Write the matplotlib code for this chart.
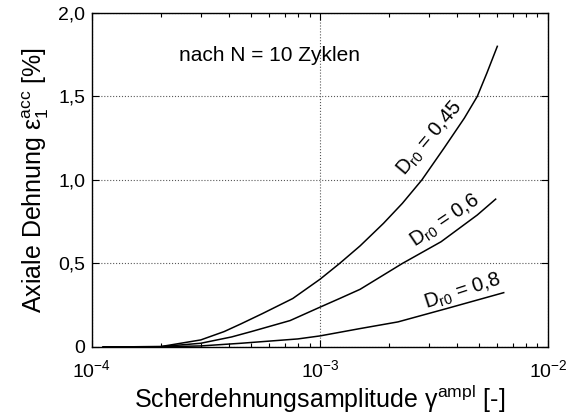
import numpy as np
import matplotlib
import matplotlib.pyplot as plt
from matplotlib.ticker import FixedLocator, LogLocator, NullFormatter

matplotlib.rcParams["font.family"] = "Liberation Sans"
matplotlib.rcParams["mathtext.fontset"] = "custom"
matplotlib.rcParams["mathtext.rm"] = "Liberation Sans"
matplotlib.rcParams["mathtext.it"] = "Liberation Sans:italic"
matplotlib.rcParams["font.size"] = 14

# values
x_045 = [1.12e-4, 2.0e-4, 3.0e-4, 3.8e-4, 4.5e-4, 5.6e-4, 7.6e-4, 1.0e-3,
         1.22e-3, 1.5e-3, 1.9e-3, 2.3e-3, 2.8e-3, 3.5e-3, 4.3e-3, 4.9e-3,
         5.4e-3, 6.0e-3]
y_045 = [0.0, 0.002, 0.042, 0.092, 0.138, 0.20, 0.29, 0.405,
         0.50, 0.605, 0.74, 0.86, 1.00, 1.19, 1.37, 1.50,
         1.64, 1.80]

x_06 = [1.12e-4, 2.0e-4, 3.0e-4, 4.1e-4, 5.0e-4, 7.4e-4, 1.0e-3, 1.22e-3,
        1.5e-3, 2.3e-3, 3.4e-3, 4.9e-3, 5.9e-3]
y_06 = [0.0, 0.002, 0.022, 0.06, 0.092, 0.158, 0.238, 0.29,
        0.345, 0.50, 0.63, 0.79, 0.885]

x_08 = [1.12e-4, 2.0e-4, 3.0e-4, 4.5e-4, 8.0e-4, 1.0e-3, 1.5e-3, 2.2e-3,
        3.6e-3, 6.4e-3]
y_08 = [0.0, 0.001, 0.006, 0.022, 0.048, 0.066, 0.11, 0.15,
        0.23, 0.325]

yticks = [0, 0.5, 1.0, 1.5, 2.0]
ytick_labels = ["0", "0,5", "1,0", "1,5", "2,0"]
xticks = [1e-4, 1e-3, 1e-2]
xtick_labels = ["10$^{-4}$", "10$^{-3}$", "10$^{-2}$"]

fig = plt.figure(figsize=(5.66, 4.17), dpi=100)
ax = fig.add_axes([0.1625, 0.168, 0.8055, 0.801])

for xs, ys in [(x_045, y_045), (x_06, y_06), (x_08, y_08)]:
    ax.plot(xs, ys, "-k", lw=1.1)

ax.set_xscale("log")
ax.set_xlim(1e-4, 1e-2)
ax.set_ylim(0, 2.0)
ax.set_yticks(yticks)
ax.set_yticklabels(ytick_labels)
ax.xaxis.set_major_locator(FixedLocator(xticks))
ax.set_xticklabels(xtick_labels)
ax.xaxis.set_minor_locator(LogLocator(base=10, subs=np.arange(2, 10)))
ax.xaxis.set_minor_formatter(NullFormatter())
ax.tick_params(which="both", direction="in", top=True, right=True, width=0.8)
ax.tick_params(which="major", length=5, labelsize=14)
ax.tick_params(axis="y", which="major", pad=5)
ax.tick_params(axis="x", which="major", pad=9)
ax.tick_params(which="minor", length=3)

ax.grid(True, which="major", ls=":", color="0.35", lw=0.8)

ax.set_xlabel("Scherdehnungsamplitude γ$^{\\mathrm{ampl}}$ [-]", fontsize=18,
              labelpad=1)
ax.set_ylabel("Axiale Dehnung ε$_1^{\\mathrm{acc}}$ [%]", fontsize=18,
              labelpad=5)

ax.text(0.19, 0.855, "nach N = 10 Zyklen", transform=ax.transAxes, fontsize=15)
ax.text(3.03e-3, 1.25, "D$_{\\mathrm{r0}}$ = 0,45", rotation=50, fontsize=14.5,
        ha="center", va="center")
ax.text(3.53e-3, 0.754, "D$_{\\mathrm{r0}}$ = 0,6", rotation=34, fontsize=14.5,
        ha="center", va="center")
ax.text(4.24e-3, 0.33, "D$_{\\mathrm{r0}}$ = 0,8", rotation=18, fontsize=14.5,
        ha="center", va="center")

for s in ax.spines.values():
    s.set_linewidth(1.0)

fig.savefig("out.png", dpi=100)
